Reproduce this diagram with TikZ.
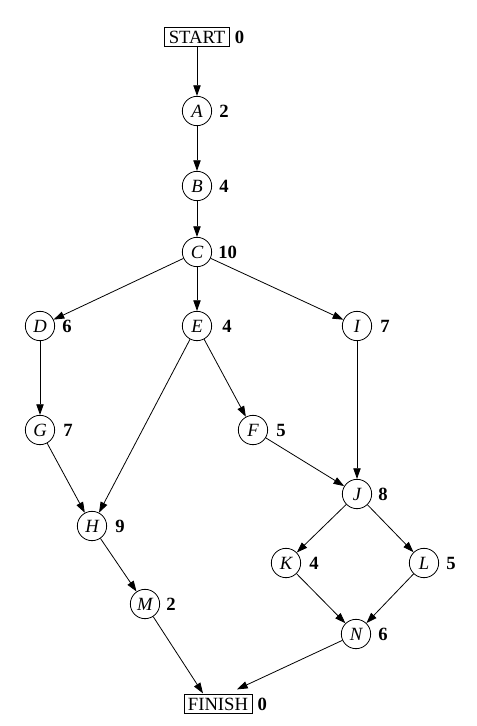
\documentclass[tikz,border=0pt]{standalone}
\usepackage{fontspec}
\setmainfont{Liberation Serif}
\usetikzlibrary{arrows.meta,calc}
\begin{document}
\begin{tikzpicture}[x=0.75pt,y=-0.75pt,
  v/.style={circle,draw,line width=0.6pt,minimum size=22pt,inner sep=0pt,font=\fontsize{14}{16}\selectfont\itshape},
  tb/.style={rectangle,draw,line width=0.6pt,inner xsep=3pt,inner ysep=2.2pt,font=\fontsize{14}{16}\selectfont},
  lab/.style={font=\fontsize{14}{16}\selectfont\bfseries,inner sep=0pt,anchor=west},
  e/.style={-{Triangle[length=8pt,width=5.5pt]},line width=0.6pt}]
\useasboundingbox (0,0) rectangle (477,726);
% nodes
\node[tb] (start) at (197,37) {START};
\node[lab] (l0) at ($(start.east)+(5,0)$) {0};
\node[v] (A) at (197,111) {A};
\node[lab] (lA) at ($(A.east)+(7,0)$) {2};
\node[v] (B) at (197,186) {B};
\node[lab] (lB) at ($(B.east)+(7,0)$) {4};
\node[v] (C) at (197,252) {C};
\node[lab] (lC) at ($(C.east)+(6,0)$) {10};
\node[v] (D) at (40,326) {D};
\node[lab] (lD) at ($(D.east)+(7,0)$) {6};
\node[v] (E) at (197,326) {E};
\node[lab] (lE) at ($(E.east)+(10,0)$) {4};
\node[v] (I) at (357,326) {I};
\node[lab] (lI) at ($(I.east)+(8,0)$) {7};
\node[v] (G) at (40,430) {G};
\node[lab] (lG) at ($(G.east)+(8,0)$) {7};
\node[v] (F) at (253,430) {F};
\node[lab] (lF) at ($(F.east)+(8,0)$) {5};
\node[v] (J) at (357,494) {J};
\node[lab] (lJ) at ($(J.east)+(6,0)$) {8};
\node[v] (H) at (92,526) {H};
\node[lab] (lH) at ($(H.east)+(8,0)$) {9};
\node[v] (K) at (286,563) {K};
\node[lab] (lK) at ($(K.east)+(8,0)$) {4};
\node[v] (L) at (424,563) {L};
\node[lab] (lL) at ($(L.east)+(7,0)$) {5};
\node[v] (M) at (145,604) {M};
\node[lab] (lM) at ($(M.east)+(6,0)$) {2};
\node[v] (N) at (356,634) {N};
\node[lab] (lN) at ($(N.east)+(7,0)$) {6};
\node[tb] (finish) at (218,704) {FINISH};
\node[lab] (l1) at ($(finish.east)+(5,0)$) {0};
\coordinate (fM) at ($(finish.north)+(-15,-1)$);
\coordinate (fN) at ($(finish.north)+(19,-5)$);
% edges
\draw[e] (start) -- (A);
\draw[e] (A) -- (B);
\draw[e] (B) -- (C);
\draw[e] (C) -- (D);
\draw[e] (C) -- (E);
\draw[e] (C) -- (I);
\draw[e] (D) -- (G);
\draw[e] (E) -- (H);
\draw[e] (E) -- (F);
\draw[e] (I) -- (J);
\draw[e] (G) -- (H);
\draw[e] (F) -- (J);
\draw[e] (H) -- (M);
\draw[e] (J) -- (K);
\draw[e] (J) -- (L);
\draw[e] (K) -- (N);
\draw[e] (L) -- (N);
\draw[e] (M) -- (fM);
\draw[e] (N) -- (fN);
\end{tikzpicture}
\end{document}
